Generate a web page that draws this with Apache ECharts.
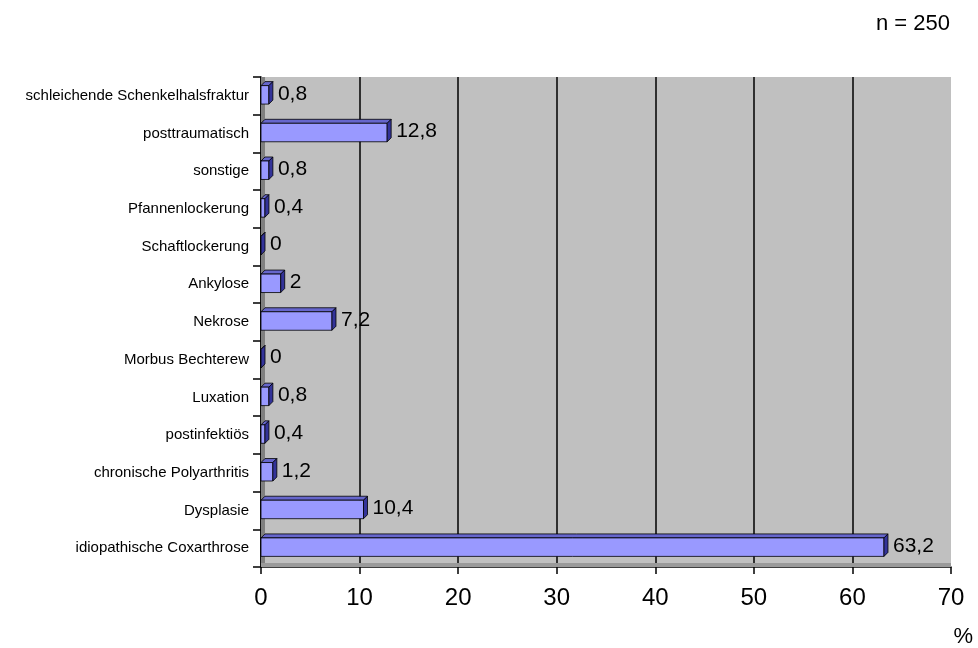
<!DOCTYPE html>
<html>
<head>
<meta charset="utf-8">
<script src="https://cdn.jsdelivr.net/npm/echarts@6/dist/echarts.min.js"></script>
<style>html,body{margin:0;padding:0;background:#fff}#c{width:978px;height:648px}</style>
</head>
<body>
<div id="c"></div>
<script>
// bottom to top
const categories = ['idiopathische Coxarthrose','Dysplasie','chronische Polyarthritis','postinfektiös','Luxation','Morbus Bechterew','Nekrose','Ankylose','Schaftlockerung','Pfannenlockerung','sonstige','posttraumatisch','schleichende Schenkelhalsfraktur'];
const values = [63.2, 10.4, 1.2, 0.4, 0.8, 0, 7.2, 2, 0, 0.4, 0.8, 12.8, 0.8];
const xTicks = [0, 10, 20, 30, 40, 50, 60, 70];

const FONT = '"Liberation Sans", Arial, sans-serif';
const chart = echarts.init(document.getElementById('c'), null, {renderer: 'canvas'});

function fmt(v){ return String(v).replace('.', ','); }

chart.setOption({
  animation: false,
  backgroundColor: '#ffffff',
  grid: {left: 261, right: 27, top: 77, bottom: 81, show: true, backgroundColor: '#C0C0C0', borderWidth: 0, outerBoundsMode: 'none'},
  graphic: [
    {type: 'text', right: 28, top: 13, style: {text: 'n = 250', font: '22px ' + FONT, fill: '#000'}},
    {type: 'text', right: 5, top: 626, style: {text: '%', font: '22px ' + FONT, fill: '#000'}},
    {type: 'rect', shape: {x: 261, y: 77, width: 4, height: 490}, style: {fill: '#808080'}, z: 1},
    {type: 'rect', shape: {x: 261, y: 563, width: 690, height: 4}, style: {fill: '#9a9a9a'}, z: 1}
  ],
  xAxis: {
    type: 'value', min: 0, max: 70, interval: 10,
    axisLine: {show: true, onZero: false, lineStyle: {color: '#000', width: 1.5}},
    axisTick: {show: true, length: 7, lineStyle: {color: '#000', width: 1.5}},
    axisLabel: {fontSize: 24, fontFamily: FONT, color: '#000', margin: 19, formatter: v => xTicks.includes(v) ? String(v) : ''},
    splitLine: {show: true, lineStyle: {color: ['#000','#000','#000','#000','#000','#000','#000','rgba(0,0,0,0)'], width: 1.5}}
  },
  yAxis: {
    type: 'category', data: categories,
    axisLine: {show: true, lineStyle: {color: '#000', width: 1.5}},
    axisTick: {show: true, length: 8, inside: false, lineStyle: {color: '#000', width: 1.5}},
    axisLabel: {fontSize: 15, fontFamily: FONT, color: '#000', margin: 12},
    splitLine: {show: false}
  },
  series: [{
    type: 'custom',
    z: 5,
    data: values.map((v, i) => [v, i]),
    encode: {x: 0, y: 1},
    renderItem: function (params, api) {
      const v = api.value(0), idx = api.value(1);
      const s = api.coord([0, idx]);
      const e = api.coord([v, idx]);
      const band = api.size([0, 1])[1];
      const h = band * 0.49;
      const top = s[1] - h / 2 - 1, bot = s[1] + h / 2 - 1;
      const d = 4;
      const x0 = s[0], x1 = e[0];
      return {
        type: 'group',
        children: [
          {type: 'polygon', shape: {points: [[x0, top], [x0 + d, top - d], [x1 + d, top - d], [x1, top]]},
            style: {fill: '#6666CC', stroke: '#000', lineWidth: 0.8}},
          {type: 'rect', shape: {x: x0, y: top, width: Math.max(x1 - x0, 0), height: bot - top},
            style: {fill: '#9999FF', stroke: '#000', lineWidth: 0.8}},
          {type: 'polygon', shape: {points: [[x1, top], [x1 + d, top - d], [x1 + d, bot - d], [x1, bot]]},
            style: {fill: '#333399', stroke: '#000', lineWidth: 0.8}},
          {type: 'text', x: x1 + d + 5, y: s[1] - 2,
            style: {text: fmt(v), font: '21px ' + FONT, fill: '#000', align: 'left', verticalAlign: 'middle'}}
        ]
      };
    }
  }]
});
</script>
</body>
</html>
